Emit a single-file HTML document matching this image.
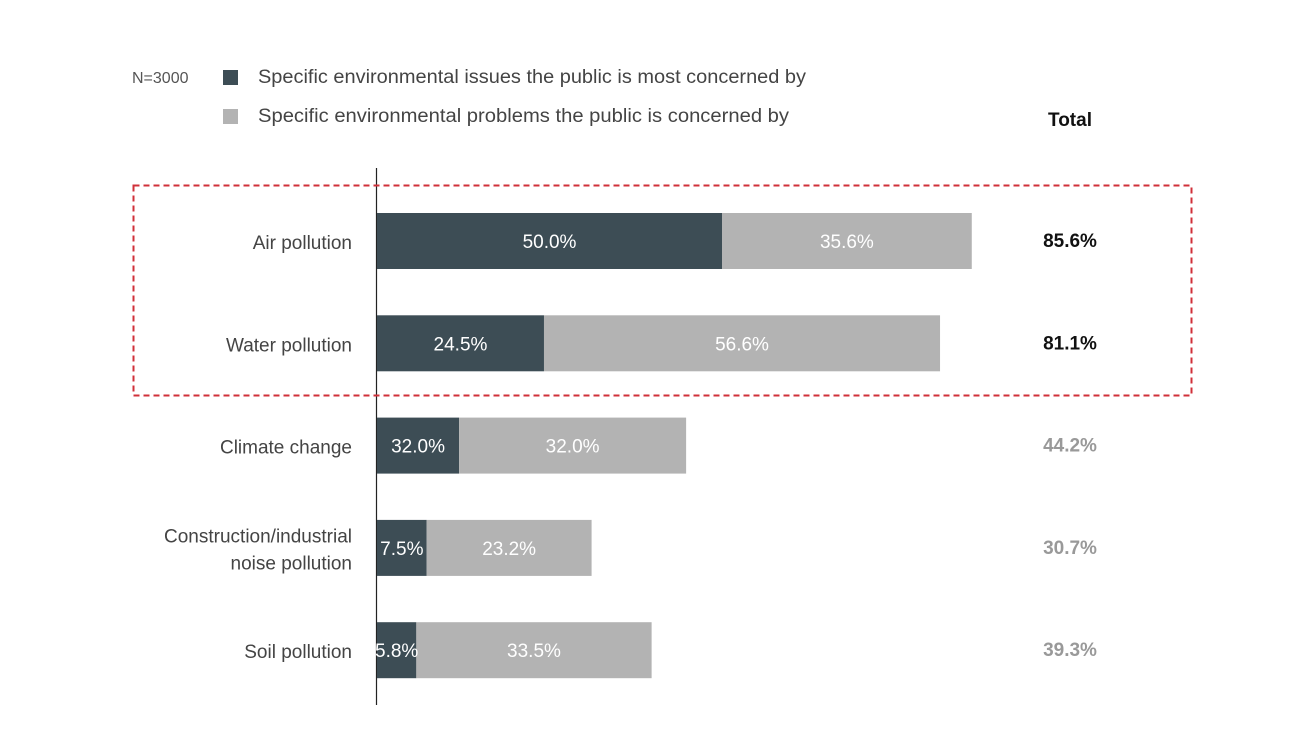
<!DOCTYPE html>
<html><head><meta charset="utf-8"><style>
html,body{margin:0;padding:0;background:#fff;}
svg{display:block;font-family:"Liberation Sans Narrow","Liberation Sans",sans-serif;}
</style></head><body>
<svg id="chart" width="1314" height="733" viewBox="0 0 1314 733">
  <text x="132" y="83" font-size="16" fill="#555">N=3000</text>
  <rect x="223" y="70" width="15" height="15" fill="#3d4d55"/>
  <text x="258" y="83" font-size="19" fill="#444" textLength="548" lengthAdjust="spacingAndGlyphs">Specific environmental issues the public is most concerned by</text>
  <rect x="223" y="109" width="15" height="15" fill="#b3b3b3"/>
  <text x="258" y="122" font-size="19" fill="#444" textLength="531" lengthAdjust="spacingAndGlyphs">Specific environmental problems the public is concerned by</text>
  <text x="1070" y="126" font-size="19" font-weight="bold" fill="#111" text-anchor="middle">Total</text>
  <line x1="376.5" y1="168" x2="376.5" y2="705" stroke="#222" stroke-width="1.2"/>
  <g id="bars"></g>
  <rect x="133.5" y="185.5" width="1058" height="210" fill="none" stroke="#d0303a" stroke-width="2" stroke-dasharray="6,4"/>
</svg>
<script>
const categories = [["Air pollution"], ["Water pollution"], ["Climate change"], ["Construction/industrial", "noise pollution"], ["Soil pollution"]];
const darkValues = [50.0, 24.2, 11.9, 7.2, 5.7];
const lightValues = [36.2, 57.4, 32.9, 23.9, 34.1];
const darkLabels = ["50.0%", "24.5%", "32.0%", "7.5%", "5.8%"];
const lightLabels = ["35.6%", "56.6%", "32.0%", "23.2%", "33.5%"];
const totalLabels = ["85.6%", "81.1%", "44.2%", "30.7%", "39.3%"];
const highlighted = [true, true, false, false, false];

const NS = "http://www.w3.org/2000/svg";
const x0 = 377, pxPerPct = 6.9;
const xScale = v => v * pxPerPct;
const yTop = 213, step = 102.3, barH = 56;
const g = document.getElementById('bars');
function mk(tag, attrs, txt){
  const e = document.createElementNS(NS, tag);
  for (const k in attrs) e.setAttribute(k, attrs[k]);
  if (txt !== undefined) e.textContent = txt;
  g.appendChild(e);
  return e;
}
categories.forEach((cat, i) => {
  const y = yTop + i * step;
  const cy = y + barH / 2;
  const wd = xScale(darkValues[i]);
  const wl = xScale(lightValues[i]);
  const d = mk('rect', {x: x0, y: y, width: wd, height: barH, fill: '#3d4d55'});
  
  
  const l = mk('rect', {x: x0 + wd, y: y, width: wl, height: barH, fill: '#b3b3b3'});
  
  
  const dl = mk('text', {x: x0 + wd / 2, y: cy + 7, 'font-size': 19, fill: '#fff', 'text-anchor': 'middle'}, darkLabels[i]);
  
  
  const ll = mk('text', {x: x0 + wd + wl / 2, y: cy + 7, 'font-size': 19, fill: '#fff', 'text-anchor': 'middle'}, lightLabels[i]);
  
  
  cat.forEach((t, j) => {
    const ty = cy + 8 + (j - (cat.length - 1) / 2) * 27;
    const c = mk('text', {x: 352, y: ty, 'font-size': 19, fill: '#444', 'text-anchor': 'end'}, t);
    
    
  });
  const tt = mk('text', {x: 1070, y: cy + 6, 'font-size': 19, 'font-weight': 'bold', fill: highlighted[i] ? '#111' : '#999', 'text-anchor': 'middle'}, totalLabels[i]);
  
  
});
</script>
</body></html>
